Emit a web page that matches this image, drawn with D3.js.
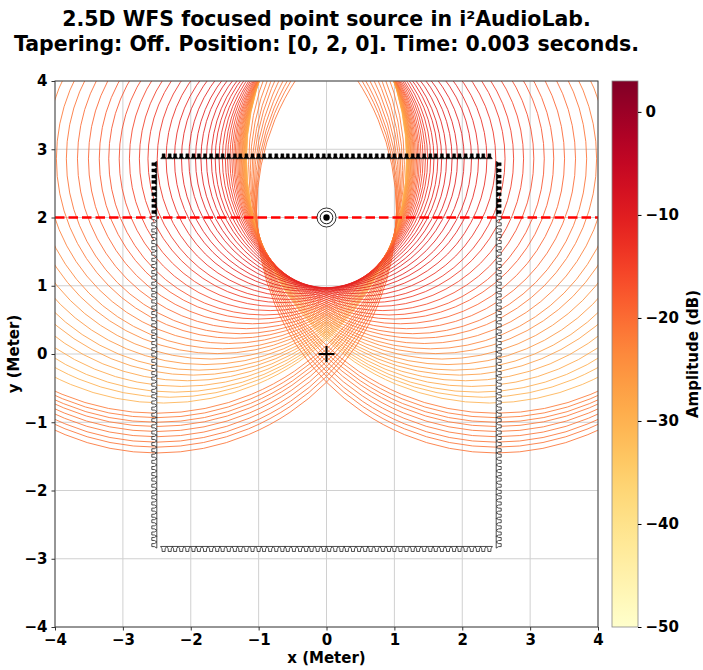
<!DOCTYPE html>
<html>
<head>
<meta charset="utf-8">
<script src="https://cdn.jsdelivr.net/npm/d3@7"></script>
<style>
  body { margin: 0; background: #fff; }
  text { font-family: "DejaVu Sans", sans-serif; font-weight: bold; fill: #000; }
</style>
</head>
<body>
<div id="chart-wrapper"></div>
<script>
// Scene setup (metres, seconds)
const focusPos = [0, 2];
const refPos = [0, 0];
const simTime = 0.003;
const soundSpeed = 343;

// Top loudspeaker row (facing down), x positions
const topX = [-2.40, -2.31, -2.23, -2.14, -2.05, -1.96, -1.88, -1.79, -1.70, -1.61,
  -1.53, -1.44, -1.35, -1.27, -1.18, -1.09, -1.00, -0.92, -0.83, -0.74,
  -0.65, -0.57, -0.48, -0.39, -0.30, -0.22, -0.13, -0.04, 0.04, 0.13,
  0.22, 0.30, 0.39, 0.48, 0.57, 0.65, 0.74, 0.83, 0.92, 1.00,
  1.09, 1.18, 1.27, 1.35, 1.44, 1.53, 1.61, 1.70, 1.79, 1.88,
  1.96, 2.05, 2.14, 2.23, 2.31, 2.40];
const topY = 2.86;
// wavefront amplitude of each top loudspeaker (dB)
const topLevel = [-30.0, -29.5, -28.8, -28.1, -27.4, -26.7, -26.1, -25.3, -24.5, -23.7,
  -23.0, -22.2, -21.3, -20.6, -19.7, -18.8, -17.9, -17.0, -16.1, -15.2,
  -14.3, -13.6, -12.9, -12.1, -11.5, -11.0, -10.7, -10.5, -10.5, -10.7,
  -11.0, -11.5, -12.1, -12.9, -13.6, -14.3, -15.2, -16.1, -17.0, -17.9,
  -18.8, -19.7, -20.6, -21.3, -22.2, -23.0, -23.7, -24.5, -25.3, -26.1,
  -26.7, -27.4, -28.1, -28.8, -29.5, -30.0];

// Side rows (left at -sideX facing right, right at +sideX facing left), y positions
const sideX = 2.5;
const sideY = [2.78, 2.69, 2.60, 2.52, 2.43, 2.34, 2.25, 2.17, 2.08,
  1.99, 1.90, 1.81, 1.73, 1.64, 1.55, 1.47, 1.38, 1.29, 1.20, 1.12,
  1.03, 0.94, 0.86, 0.77, 0.68, 0.60, 0.51, 0.42, 0.33, 0.25,
  0.16, 0.07, -0.01, -0.10, -0.19, -0.28, -0.36, -0.45, -0.54, -0.62,
  -0.71, -0.80, -0.89, -0.97, -1.06, -1.15, -1.23, -1.32, -1.41, -1.49,
  -1.58, -1.67, -1.76, -1.84, -1.93, -2.02, -2.10, -2.19, -2.28, -2.37,
  -2.45, -2.54, -2.63, -2.71, -2.80];
// amplitude of the active side loudspeakers (first entries of sideY), dB
const sideLevel = [-21.6, -21.5, -21.4, -21.3, -21.1, -21.0, -20.9, -20.8, -20.7];

// Bottom row (facing up), all inactive
const bottomY = -2.82;

const xTicks = [-4, -3, -2, -1, 0, 1, 2, 3, 4];
const yTicks = [-4, -3, -2, -1, 0, 1, 2, 3, 4];
const cbTicks = [0, -10, -20, -30, -40, -50];
const cbDomain = [-50, 3];

const titleLines = ["2.5D WFS focused point source in i\u00b2AudioLab.",
  "Tapering: Off. Position: [0, 2, 0]. Time: 0.003 seconds."];

const initChart = () => {
  const W = 703, H = 670;
  const plot = { left: 55, right: 598, top: 81, bottom: 627 };
  const cb = { left: 612, width: 26 };

  const svg = d3.select("#chart-wrapper").append("svg")
    .attr("width", W).attr("height", H);

  const xScale = d3.scaleLinear().domain([-4, 4]).range([plot.left, plot.right]);
  const yScale = d3.scaleLinear().domain([-4, 4]).range([plot.bottom, plot.top]);
  const cScale = d3.scaleSequential(d3.interpolateYlOrRd).domain(cbDomain);

  svg.append("defs").append("clipPath").attr("id", "plot-clip")
    .append("rect")
    .attr("x", plot.left).attr("y", plot.top)
    .attr("width", plot.right - plot.left).attr("height", plot.bottom - plot.top);

  // grid
  const grid = svg.append("g");
  grid.selectAll(".gx").data(xTicks).enter().append("line")
    .attr("x1", d => xScale(d)).attr("x2", d => xScale(d))
    .attr("y1", plot.top).attr("y2", plot.bottom)
    .attr("stroke", "#d0d0d0").attr("stroke-width", 1);
  grid.selectAll(".gy").data(yTicks).enter().append("line")
    .attr("y1", d => yScale(d)).attr("y2", d => yScale(d))
    .attr("x1", plot.left).attr("x2", plot.right)
    .attr("stroke", "#d0d0d0").attr("stroke-width", 1);

  // active loudspeakers -> wavefronts
  let sources = topX.map((x, i) => ({ x: x, y: topY, level: topLevel[i] }));
  sideLevel.forEach((lv, i) => {
    sources.push({ x: -sideX, y: sideY[i], level: lv });
    sources.push({ x: sideX, y: sideY[i], level: lv });
  });
  sources.forEach(s => {
    s.r = Math.hypot(s.x - focusPos[0], s.y - focusPos[1]) + soundSpeed * simTime;
  });
  sources.sort((a, b) => a.level - b.level);

  svg.append("g").attr("clip-path", "url(#plot-clip)")
    .selectAll("ellipse").data(sources).enter().append("ellipse")
    .attr("cx", d => xScale(d.x)).attr("cy", d => yScale(d.y))
    .attr("rx", d => xScale(d.r) - xScale(0))
    .attr("ry", d => yScale(0) - yScale(d.r))
    .attr("fill", "none")
    .attr("stroke", d => cScale(d.level))
    .attr("stroke-opacity", 0.85)
    .attr("stroke-width", 1);

  // source row line
  svg.append("line")
    .attr("x1", plot.left).attr("x2", plot.right)
    .attr("y1", yScale(focusPos[1])).attr("y2", yScale(focusPos[1]))
    .attr("stroke", "#ff0000").attr("stroke-width", 2.5)
    .attr("stroke-dasharray", "9.5,4");

  // loudspeaker glyphs (mouth at origin, body toward -y)
  const glyph = "M-3,0L3,0L1.5,-2.4L1.5,-5L-1.5,-5L-1.5,-2.4Z";
  const spk = [];
  topX.forEach(x => spk.push({ x: x, y: topY, rot: 0, on: true }));
  sideY.forEach((y, i) => {
    spk.push({ x: -sideX, y: y, rot: -90, on: i < sideLevel.length });
    spk.push({ x: sideX, y: y, rot: 90, on: i < sideLevel.length });
  });
  topX.forEach(x => spk.push({ x: x, y: bottomY, rot: 180, on: false }));

  svg.append("g").selectAll("path").data(spk).enter().append("path")
    .attr("d", glyph)
    .attr("transform", d => `translate(${xScale(d.x)},${yScale(d.y)}) rotate(${d.rot})`)
    .attr("fill", d => d.on ? "#000" : "#fff")
    .attr("stroke", d => d.on ? "#000" : "#222")
    .attr("stroke-width", d => d.on ? 0.4 : 0.8);

  // focus marker
  const fx = xScale(focusPos[0]), fy = yScale(focusPos[1]);
  svg.append("circle").attr("cx", fx).attr("cy", fy).attr("r", 9.5)
    .attr("fill", "#fff").attr("stroke", "#000").attr("stroke-width", 0.8);
  svg.append("circle").attr("cx", fx).attr("cy", fy).attr("r", 6.3)
    .attr("fill", "none").attr("stroke", "#000").attr("stroke-width", 0.9);
  svg.append("circle").attr("cx", fx).attr("cy", fy).attr("r", 3.2)
    .attr("fill", "#000");

  // reference point marker
  const rx = xScale(refPos[0]), ry = yScale(refPos[1]);
  svg.append("path")
    .attr("d", `M${rx - 8},${ry}L${rx + 8},${ry}M${rx},${ry - 8}L${rx},${ry + 8}`)
    .attr("stroke", "#000").attr("stroke-width", 2);

  // frame
  svg.append("rect")
    .attr("x", plot.left).attr("y", plot.top)
    .attr("width", plot.right - plot.left).attr("height", plot.bottom - plot.top)
    .attr("fill", "none").attr("stroke", "#444").attr("stroke-width", 1);

  // axes
  const xAxis = svg.append("g")
    .attr("transform", `translate(0,${plot.bottom})`)
    .call(d3.axisBottom(xScale).tickValues(xTicks).tickFormat(d3.format("d")).tickSize(3.5).tickPadding(4));
  const yAxis = svg.append("g")
    .attr("transform", `translate(${plot.left},0)`)
    .call(d3.axisLeft(yScale).tickValues(yTicks).tickFormat(d3.format("d")).tickSize(3.5).tickPadding(4));
  [xAxis, yAxis].forEach(a => {
    a.select(".domain").remove();
    a.selectAll("text").style("font-size", "15px").style("font-family", "DejaVu Sans").style("font-weight", "bold");
    a.selectAll("line").attr("stroke", "#333");
  });

  svg.append("text").attr("x", (plot.left + plot.right) / 2).attr("y", 663)
    .attr("text-anchor", "middle").style("font-size", "15px").text("x (Meter)");
  svg.append("text")
    .attr("transform", `translate(19,${(plot.top + plot.bottom) / 2}) rotate(-90)`)
    .attr("text-anchor", "middle").style("font-size", "15px").text("y (Meter)");

  // title
  svg.append("g").selectAll("text").data(titleLines).enter().append("text")
    .attr("x", (plot.left + plot.right) / 2)
    .attr("y", (d, i) => 26 + i * 25)
    .attr("text-anchor", "middle").style("font-size", "20.5px")
    .text(d => d);

  // colorbar
  const cbScale = d3.scaleLinear().domain(cbDomain).range([plot.bottom, plot.top]);
  const grad = svg.select("defs").append("linearGradient").attr("id", "cb-grad")
    .attr("x1", 0).attr("y1", 1).attr("x2", 0).attr("y2", 0);
  d3.range(0, 1.0001, 0.05).forEach(t => {
    grad.append("stop").attr("offset", t).attr("stop-color", d3.interpolateYlOrRd(t));
  });
  svg.append("rect")
    .attr("x", cb.left).attr("y", plot.top)
    .attr("width", cb.width).attr("height", plot.bottom - plot.top)
    .attr("fill", "url(#cb-grad)").attr("stroke", "#888").attr("stroke-width", 0.8);
  const cbAxis = svg.append("g")
    .attr("transform", `translate(${cb.left + cb.width},0)`)
    .call(d3.axisRight(cbScale).tickValues(cbTicks).tickFormat(d3.format("d")).tickSize(3.5).tickPadding(4));
  cbAxis.select(".domain").remove();
  cbAxis.selectAll("text").style("font-size", "15px").style("font-family", "DejaVu Sans").style("font-weight", "bold");
  svg.append("text")
    .attr("transform", `translate(698,${(plot.top + plot.bottom) / 2}) rotate(-90)`)
    .attr("text-anchor", "middle").style("font-size", "15px").text("Amplitude (dB)");
};

window.onload = () => {
  initChart();
};
</script>
</body>
</html>
